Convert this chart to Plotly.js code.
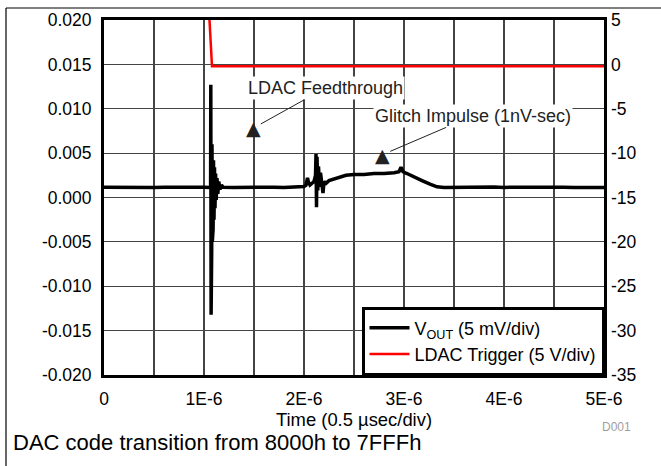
<!DOCTYPE html>
<html>
<head>
<meta charset="utf-8">
<script src="https://cdn.plot.ly/plotly-3.0.1.min.js"></script>
<style>html,body{margin:0;padding:0;background:#fff;}#chart{width:661px;height:466px;}</style>
</head>
<body>
<div id="chart"></div>
<script>
// ---- data ----
const voutTime = [
  0, 0.1e-6, 0.2e-6, 0.3e-6, 0.4e-6, 0.5e-6, 0.6e-6, 0.7e-6, 0.8e-6, 0.9e-6, 1.0e-6, 1.06e-6,
  1.066e-6, 1.068e-6, 1.071e-6, 1.074e-6, 1.077e-6, 1.080e-6, 1.083e-6, 1.087e-6, 1.091e-6,
  1.095e-6, 1.100e-6, 1.105e-6, 1.110e-6, 1.116e-6, 1.122e-6, 1.130e-6, 1.138e-6, 1.148e-6,
  1.160e-6, 1.175e-6, 1.19e-6,
  1.3e-6, 1.4e-6, 1.5e-6, 1.6e-6, 1.7e-6, 1.8e-6, 1.9e-6, 1.96e-6, 2.00e-6, 2.02e-6, 2.035e-6,
  2.045e-6, 2.06e-6, 2.08e-6, 2.10e-6, 2.115e-6, 2.12e-6, 2.125e-6, 2.13e-6, 2.138e-6, 2.145e-6,
  2.155e-6, 2.165e-6, 2.18e-6, 2.19e-6, 2.20e-6, 2.22e-6, 2.25e-6, 2.30e-6, 2.36e-6, 2.42e-6,
  2.50e-6, 2.60e-6, 2.70e-6, 2.80e-6, 2.90e-6, 2.95e-6, 2.97e-6, 2.99e-6, 3.03e-6, 3.10e-6,
  3.18e-6, 3.26e-6, 3.33e-6, 3.40e-6, 3.5e-6, 3.6e-6, 3.7e-6, 3.8e-6, 3.9e-6, 4.0e-6, 4.1e-6,
  4.2e-6, 4.3e-6, 4.4e-6, 4.5e-6, 4.6e-6, 4.7e-6, 4.8e-6, 4.9e-6, 5.0e-6
];
const voutValue = [
  0.00116, 0.00114, 0.00118, 0.00115, 0.00117, 0.00114, 0.00116, 0.00118, 0.00115, 0.00117, 0.00116, 0.00114,
  0.0011, 0.0127, -0.0132, 0.0080, -0.0060, 0.0060, -0.0050, 0.0050, -0.0036,
  0.0042, -0.0025, 0.0034, -0.0012, 0.0027, -0.0003, 0.0022, 0.0004, 0.0018,
  0.0009, 0.0014, 0.00116,
  0.00114, 0.00117, 0.00115, 0.00113, 0.00116, 0.00114, 0.00117, 0.0012, 0.00125, 0.0014, 0.0022,
  0.0017, 0.0014, 0.0016, 0.0018, 0.0025, 0.0049, -0.0011, 0.0046, 0.0008, 0.0035,
  0.0012, 0.0028, 0.0014, 0.0005, 0.0018, 0.0016, 0.0019, 0.0021, 0.0023, 0.0025,
  0.0026, 0.0026, 0.0027, 0.0027, 0.0028, 0.0029, 0.0034, 0.0029, 0.0027, 0.0023,
  0.0019, 0.0015, 0.0012, 0.00112, 0.00114, 0.00116, 0.00113, 0.00115, 0.00117, 0.00114, 0.00116,
  0.00113, 0.00115, 0.00117, 0.00114, 0.00116, 0.00113, 0.00115, 0.00116, 0.00114
];
const triggerTime = [0, 1.05e-6, 1.08e-6, 5.0e-6];
const triggerValue = [6, 6, -0.2, -0.2];

const xTickVals = [0, 1e-6, 2e-6, 3e-6, 4e-6, 5e-6];
const xTickText = ["0", "1E-6", "2E-6", "3E-6", "4E-6", "5E-6"];
const yTickVals = [-0.020, -0.015, -0.010, -0.005, 0.000, 0.005, 0.010, 0.015, 0.020];
const yTickText = ["-0.020", "-0.015", "-0.010", "-0.005", "0.000", "0.005", "0.010", "0.015", "0.020"];
const y2TickVals = [-35, -30, -25, -20, -15, -10, -5, 0, 5];
const y2TickText = ["-35", "-30", "-25", "-20", "-15", "-10", "-5", "0", "5"];

const seriesNames = ["V<sub>OUT</sub> (5 mV/div)", "LDAC Trigger (5 V/div)"];
const xTitle = "Time (0.5 \u00b5sec/div)";
const caption = "DAC code transition from 8000h to 7FFFh";
const figId = "D001";
const feedLabel = "LDAC Feedthrough";
const feedPoint = [1.49e-6, 0.0078];
const glitchLabel = "Glitch Impulse (1nV-sec)";
const glitchPoint = [2.78e-6, 0.0048];

// ---- chart ----
const FONT = "Liberation Sans, Arial, sans-serif";
const traces = [
  {x: voutTime, y: voutValue, name: seriesNames[0], type: "scatter", mode: "lines",
   line: {color: "#000000", width: 3.5}, yaxis: "y"},
  {x: triggerTime, y: triggerValue, name: seriesNames[1], type: "scatter", mode: "lines",
   line: {color: "#ff0000", width: 2.5}, yaxis: "y2"}
];

const gridColor = "#444444";
const layout = {
  width: 661, height: 466,
  margin: {l: 104, r: 57, t: 20, b: 91, pad: 0},
  paper_bgcolor: "#ffffff", plot_bgcolor: "#ffffff",
  font: {family: FONT, size: 17, color: "#000000"},
  showlegend: true,
  legend: {x: 1, xanchor: "right", y: 0, yanchor: "bottom", bgcolor: "#ffffff",
           bordercolor: "#000000", borderwidth: 2.5, font: {family: FONT, size: 18, color: "#000"},
           tracegroupgap: 0, itemwidth: 40},
  xaxis: {range: [0, 5e-6], tickvals: xTickVals, ticktext: xTickText, ticks: "",
          showgrid: true, gridcolor: gridColor, gridwidth: 1.2, zeroline: false,
          minor: {tickmode: "linear", tick0: 0, dtick: 0.5e-6, showgrid: true,
                  gridcolor: gridColor, gridwidth: 1.2, ticks: ""},
          showline: true, linecolor: "#000", linewidth: 3, mirror: true,
          tickfont: {family: FONT, size: 17.5}, ticklabelstandoff: 6,
          title: {text: xTitle, font: {family: FONT, size: 18.4}, standoff: 4}},
  yaxis: {range: [-0.020, 0.020], tickvals: yTickVals, ticktext: yTickText, ticks: "",
          showgrid: true, gridcolor: gridColor, gridwidth: 1.2, zeroline: false,
          showline: true, linecolor: "#000", linewidth: 3, mirror: true,
          tickfont: {family: FONT, size: 17.5}, ticklabelstandoff: 6},
  yaxis2: {range: [-35, 5], tickvals: y2TickVals, ticktext: y2TickText, ticks: "",
           overlaying: "y", side: "right", showgrid: false, zeroline: false, showline: false,
           tickfont: {family: FONT, size: 17.5}, ticklabelstandoff: 6},
  annotations: [
    {x: feedPoint[0], y: feedPoint[1], xref: "x", yref: "y", text: feedLabel,
     showarrow: true, arrowhead: 0, arrowwidth: 1, arrowcolor: "#222", ax: 72, ay: -40, standoff: 9,
     bgcolor: "#ffffff", font: {family: FONT, size: 18, color: "#222"}},
    {x: feedPoint[0], y: feedPoint[1], xref: "x", yref: "y", text: "\u25B2", showarrow: false,
     font: {family: "DejaVu Sans", size: 19, color: "#222"}},
    {x: glitchPoint[0], y: glitchPoint[1], xref: "x", yref: "y", text: glitchLabel,
     showarrow: true, arrowhead: 0, arrowwidth: 1, arrowcolor: "#222", ax: 91, ay: -39, standoff: 9,
     bgcolor: "#ffffff", font: {family: FONT, size: 18, color: "#222"}},
    {x: glitchPoint[0], y: glitchPoint[1], xref: "x", yref: "y", text: "\u25B2", showarrow: false,
     font: {family: "DejaVu Sans", size: 19, color: "#222"}},
    {x: -0.186, y: -0.1915, xref: "paper", yref: "paper", xanchor: "left", yanchor: "middle",
     text: caption, showarrow: false, font: {family: FONT, size: 22, color: "#000"}},
    {x: 1.024, y: -0.146, xref: "paper", yref: "paper", xanchor: "center", yanchor: "middle",
     text: figId, showarrow: false, font: {family: FONT, size: 12, color: "#a0a0a0"}}
  ],
  shapes: [
    {type: "line", xref: "paper", yref: "paper", x0: -0.196, x1: 1.12, y0: 1.0338, y1: 1.0338,
     line: {color: "#000", width: 1.2}},
    {type: "line", xref: "paper", yref: "paper", x0: -0.196, x1: -0.196, y0: 1.0338, y1: -0.27,
     line: {color: "#000", width: 1.2}}
  ]
};

Plotly.newPlot("chart", traces, layout, {displayModeBar: false, staticPlot: true});
</script>
</body>
</html>
